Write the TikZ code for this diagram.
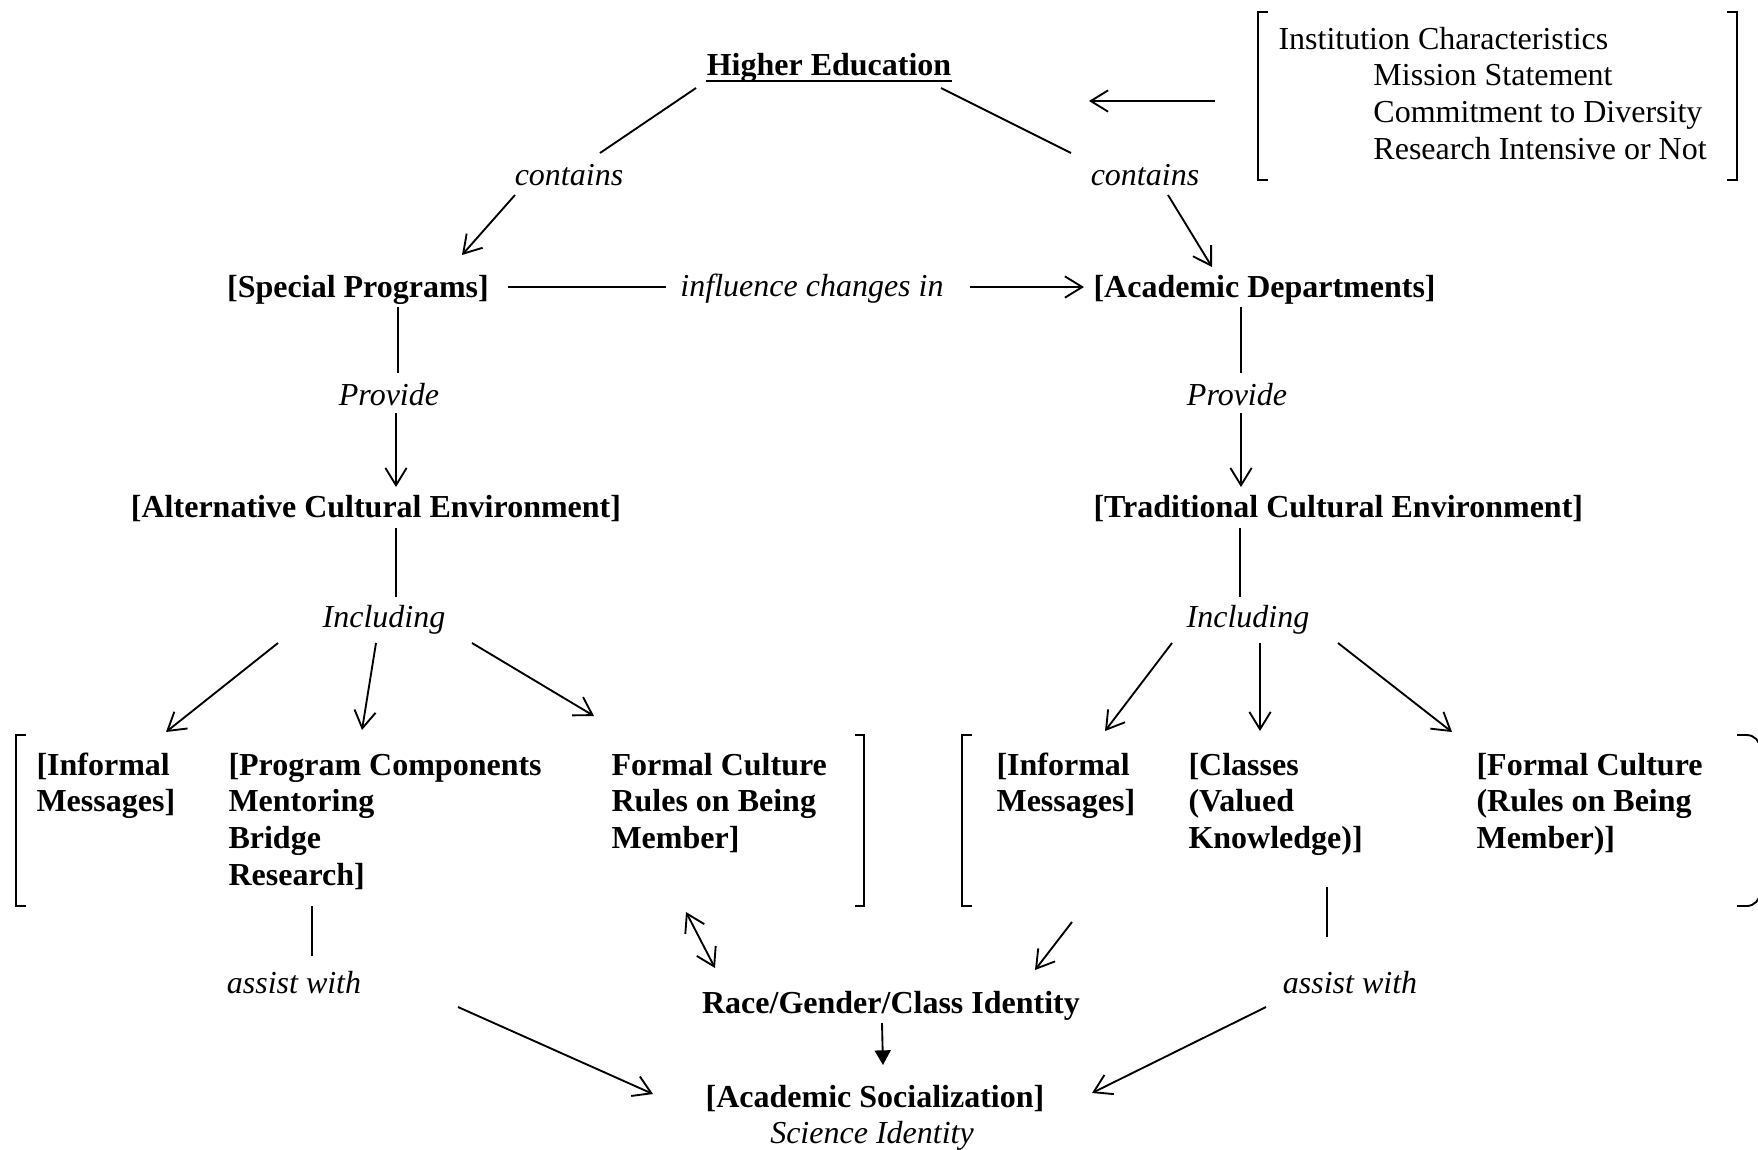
\documentclass[tikz,border=0pt]{standalone}
\usepackage{fontspec}
\setmainfont{Liberation Serif}
\usetikzlibrary{arrows.meta}
\begin{document}
\begin{tikzpicture}[x=0.375pt,y=-0.375pt,
  every node/.style={inner sep=0pt},
  plain/.style={font=\fontsize{12}{13.8}\selectfont, align=left},
  box/.style={font=\fontsize{12}{13.8}\selectfont\bfseries, align=left},
  lbl/.style={font=\fontsize{12}{13.8}\selectfont\itshape},
  conn/.style={line width=0.7pt},
  arr/.style={conn, -{Straight Barb[length=6.5pt,width=8pt]}},
  darr/.style={conn, {Straight Barb[length=6.5pt,width=8pt]}-{Straight Barb[length=6.5pt,width=8pt]}},
  farr/.style={conn, -{Triangle[length=5.5pt,width=6pt]}},
  brk/.style={line width=0.7pt}]
\useasboundingbox (0,0) rectangle (1758,1149);

% ---------- nodes (multi-line nodes: base = last line's baseline) ----------
\node[box, anchor=base] (he) at (829,75) {Higher Education};
\draw[line width=1pt] ([yshift=-2.3pt]he.base west) -- ([yshift=-2.3pt]he.base east);
\node[lbl, anchor=base] (cl) at (569,185) {contains};
\node[lbl, anchor=base] (cr) at (1145,185) {contains};
\node[plain, anchor=base west] (ic) at (1278,159.4)
  {Institution Characteristics\\\hspace*{35.6pt}Mission Statement\\\hspace*{35.6pt}Commitment to Diversity\\\hspace*{35.6pt}Research Intensive or Not};
\node[box, anchor=base] (sp) at (358,297) {[Special Programs]};
\node[lbl, anchor=base] (inf) at (812,296) {influence changes in};
\node[box, anchor=base west] (ad) at (1093,297) {[Academic Departments]};
\node[lbl, anchor=base] (pl) at (389,405) {Provide};
\node[lbl, anchor=base] (pr) at (1237,405) {Provide};
\node[box, anchor=base] (ace) at (376,517) {[Alternative Cultural Environment]};
\node[box, anchor=base west] (tce) at (1093,517) {[Traditional Cultural Environment]};
\node[lbl, anchor=base] (il) at (384,627) {Including};
\node[lbl, anchor=base] (ir) at (1248,627) {Including};
\node[box, anchor=base west] (linf) at (36,811.8) {[Informal\\Messages]};
\node[box, anchor=base west] (lprog) at (228,885.4) {[Program Components\\Mentoring\\Bridge\\Research]};
\node[box, anchor=base west] (lform) at (611,848.6) {Formal Culture\\Rules on Being\\Member]};
\node[box, anchor=base west] (rinf) at (996,811.8) {[Informal\\Messages]};
\node[box, anchor=base west] (rcls) at (1188,848.6) {[Classes\\(Valued\\Knowledge)]};
\node[box, anchor=base west] (rform) at (1476,848.6) {[Formal Culture\\(Rules on Being\\Member)]};
\node[lbl, anchor=base] (al) at (294,993) {assist with};
\node[lbl, anchor=base] (ar) at (1350,993) {assist with};
\node[box, anchor=base] (rgc) at (891,1013) {Race/Gender/Class Identity};
\node[box, anchor=base] (as) at (875,1107) {[Academic Socialization]};
\node[lbl, anchor=base] (si) at (872,1143) {Science Identity};

% ---------- brackets ----------
\draw[brk] (1268,12) -- (1258,12) -- (1258,180) -- (1268,180);
\draw[brk] (1727,12) -- (1737,12) -- (1737,180) -- (1727,180);
\draw[brk] (26,735) -- (16,735) -- (16,906) -- (26,906);
\draw[brk] (855,735) -- (864,735) -- (864,906) -- (855,906);
\draw[brk] (972,735) -- (962,735) -- (962,906) -- (972,906);
\draw[brk, rounded corners=5pt] (1737,735) -- (1760,735) -- (1760,906) -- (1737,906);

% ---------- connector end points ----------
\coordinate (he-l) at (696,88);   \coordinate (cl-t) at (600,153);
\coordinate (cl-b) at (515,195);  \coordinate (sp-t) at (462,255);
\coordinate (he-r) at (941,88);   \coordinate (cr-t) at (1071,153);
\coordinate (cr-b) at (1168,195); \coordinate (ad-t) at (1212,267);
\coordinate (ic-l) at (1215,101); \coordinate (he-e) at (1089,101);
\coordinate (sp-e) at (508,287);  \coordinate (inf-w) at (666,287);
\coordinate (inf-e) at (970,287); \coordinate (ad-w) at (1084,287);
\coordinate (sp-b) at (398,307);  \coordinate (pl-t) at (398,373);
\coordinate (pl-b) at (396,413);  \coordinate (ace-t) at (396,487);
\coordinate (ad-b) at (1241,307); \coordinate (pr-t) at (1241,373);
\coordinate (pr-b) at (1241,413); \coordinate (tce-t) at (1241,487);
\coordinate (ace-b) at (396,528); \coordinate (il-t) at (396,597);
\coordinate (tce-b) at (1240,528);\coordinate (ir-t) at (1240,597);
\coordinate (il-1) at (278,643);  \coordinate (linf-t) at (166,732);
\coordinate (il-2) at (376,643);  \coordinate (lprog-t) at (362,730);
\coordinate (il-3) at (472,643);  \coordinate (lform-t) at (594,716);
\coordinate (ir-1) at (1172,643); \coordinate (rinf-t) at (1105,731);
\coordinate (ir-2) at (1260,643); \coordinate (rcls-t) at (1260,731);
\coordinate (ir-3) at (1338,643); \coordinate (rform-t) at (1452,732);
\coordinate (lprog-b) at (312,906); \coordinate (al-t) at (312,956);
\coordinate (rcls-b) at (1327,887); \coordinate (ar-t) at (1327,937);
\coordinate (al-e) at (458,1007); \coordinate (as-w) at (653,1094);
\coordinate (ar-w) at (1266,1007); \coordinate (as-e) at (1092,1093);
\coordinate (lform-b) at (686,912); \coordinate (rgc-t) at (715,968);
\coordinate (rinf-b) at (1072,922); \coordinate (rgc-r) at (1035,970);
\coordinate (rgc-b) at (882,1023); \coordinate (as-t) at (883,1065);

% ---------- connectors ----------
\draw[conn] (he-l) -- (cl-t);
\draw[arr] (cl-b) -- (sp-t);
\draw[conn] (he-r) -- (cr-t);
\draw[arr] (cr-b) -- (ad-t);
\draw[arr] (ic-l) -- (he-e);
\draw[conn] (sp-e) -- (inf-w);
\draw[arr] (inf-e) -- (ad-w);
\draw[conn] (sp-b) -- (pl-t);
\draw[arr] (pl-b) -- (ace-t);
\draw[conn] (ad-b) -- (pr-t);
\draw[arr] (pr-b) -- (tce-t);
\draw[conn] (ace-b) -- (il-t);
\draw[conn] (tce-b) -- (ir-t);
\draw[arr] (il-1) -- (linf-t);
\draw[arr] (il-2) -- (lprog-t);
\draw[arr] (il-3) -- (lform-t);
\draw[arr] (ir-1) -- (rinf-t);
\draw[arr] (ir-2) -- (rcls-t);
\draw[arr] (ir-3) -- (rform-t);
\draw[conn] (lprog-b) -- (al-t);
\draw[conn] (rcls-b) -- (ar-t);
\draw[arr] (al-e) -- (as-w);
\draw[arr] (ar-w) -- (as-e);
\draw[darr] (lform-b) -- (rgc-t);
\draw[arr] (rinf-b) -- (rgc-r);
\draw[farr] (rgc-b) -- (as-t);
\end{tikzpicture}
\end{document}
